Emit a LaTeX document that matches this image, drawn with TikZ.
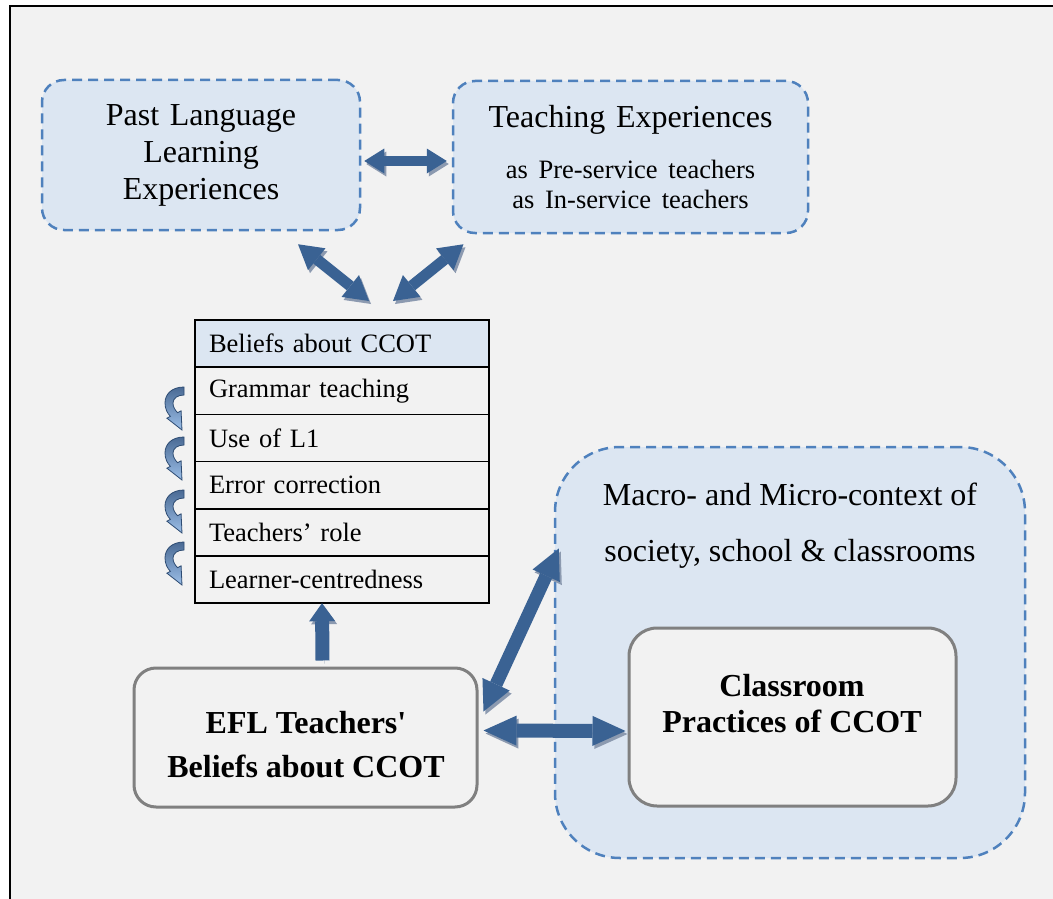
\documentclass[tikz,border=0pt]{standalone}
\usepackage{fontspec}
\setmainfont{Liberation Serif}
\usetikzlibrary{calc}
\usetikzlibrary{arrows.meta}
\usetikzlibrary{positioning}
\definecolor{panelgray}{HTML}{F2F2F2}
\definecolor{paleblue}{HTML}{DCE6F2}
\definecolor{dashblue}{HTML}{4F81BD}
\definecolor{arrowblue}{HTML}{3A6293}
\definecolor{shadowgray}{HTML}{8C9AB0}
\definecolor{boxgray}{HTML}{808080}
\definecolor{curltop}{HTML}{4A6A94}
\definecolor{curlbottom}{HTML}{9CBFE8}
\definecolor{curledge}{HTML}{2E4C73}
\newcommand{\straightquote}{\XeTeXglyph\XeTeXcharglyph"0027\relax}

\begin{document}
\begin{tikzpicture}[x=1pt, y=-1pt,
 dashbox/.style={draw=dashblue, fill=paleblue, line width=2.5pt, dash pattern=on 10pt off 6pt, rounded corners=22pt, align=center, inner sep=0pt},
 greybox/.style={draw=boxgray, fill=panelgray, line width=3pt, rounded corners=22pt, inner sep=0pt},
 cell/.style={draw=black, line width=1.5pt, text width=266pt, inner xsep=14pt, inner ysep=0pt, minimum height=47.2pt, outer sep=0pt, align=left, font=\fontsize{26.5}{30}\selectfont},
 boldtext/.style={font=\bfseries\fontsize{32}{44}\selectfont, align=center},
 blockarrow/.style n args={3}{line width=#1, draw=arrowblue, >={Triangle[length=#2, width=#3, line width=0pt]},
   preaction={draw=shadowgray, transform canvas={shift={(2pt,-3pt)}}}}]
\useasboundingbox (0,0) rectangle (1053,899);
\fill[white] (0,0) rectangle (1053,899);
\fill[panelgray] (10,6) rectangle (1053,899);
\draw[line width=2pt] (10,899) -- (10,6) -- (1053,6);

\node[dashbox, text width=318pt, minimum height=150pt, font=\fontsize{32}{37}\selectfont] (past) at (201,155) {Past Language\\Learning\\Experiences};
\node[dashbox, text width=355pt, minimum height=152pt, font=\fontsize{32}{37}\selectfont] (teach) at (630.5,157)
 {Teaching Experiences\\[21pt]{\fontsize{26.5}{30}\selectfont as Pre-service teachers\\as In-service teachers\par}};

\node[cell, fill=paleblue] (r0) at (342,343.6) {Beliefs about CCOT};
\foreach \txt [count=\i, remember=\i as \j (initially 0)] in {Grammar teaching, Use of L1, Error correction, Teachers’ role, Learner-centredness}
 \node[cell, below=0pt of r\j] (r\i) {\txt};

\foreach \y in {387,437,490,542}
 \path[draw=curledge, line width=0.8pt, top color=curltop, bottom color=curlbottom, shift={(184,\y)}]
  (0,0) .. controls (-12,0) and (-19,7) .. (-19,16) .. controls (-19,22) and (-16.5,26.5) .. (-13.6,29.3)
  -- (-17.1,31.2) -- (-2,43) -- (-2.9,23.8) -- (-6.4,25.7)
  .. controls (-9,23) and (-11,20) .. (-11,16) .. controls (-11,11) and (-6,8) .. (0,8) -- cycle;

\node[dashbox, rounded corners=65pt, minimum width=470pt, minimum height=411pt] (ctx) at (790,652.5) {};
\node[font=\fontsize{32}{56}\selectfont, align=center] (ctxtext) at (790,525.5) {Macro- and Micro-context of\\society, school \& classrooms};
\node[greybox, rounded corners=28pt, minimum width=327pt, minimum height=178pt] (cls) at (792.5,717) {};
\node[boldtext, font=\bfseries\fontsize{32}{36}\selectfont] (clstext) at (792,704) {Classroom\\Practices of CCOT};
\node[greybox, minimum width=343pt, minimum height=139pt] (efl) at (305.5,737.5) {};
\node[boldtext] (efltext) at (306,745) {EFL Teachers\straightquote\\Beliefs about CCOT};

\draw[blockarrow={10pt}{20pt}{25pt}, <->] ($(past.east)+(3,6)$) -- ($(teach.west)+(-5,4)$);
\draw[blockarrow={11pt}{24pt}{28pt}, <->] ($(past.south)+(97,13)$) -- ($(r0.north)+(27,-19)$);
\draw[blockarrow={11pt}{24pt}{28pt}, <->] ($(teach.south)+(-167,10)$) -- ($(r0.north)+(51,-19)$);
\draw[blockarrow={14pt}{18pt}{26pt}, ->] ($(efl.north)+(17,-6)$) -- ($(r5.south)+(-20,0)$);
\draw[blockarrow={13pt}{30pt}{30pt}, <->] ($(efl.east)+(5,-26)$) -- ($(ctx.west)+(5,-104)$);
\draw[blockarrow={14pt}{33pt}{30pt}, <->] ($(efl.east)+(5,-7)$) -- ($(cls.west)+(-2,14)$);
\end{tikzpicture}
\end{document}
